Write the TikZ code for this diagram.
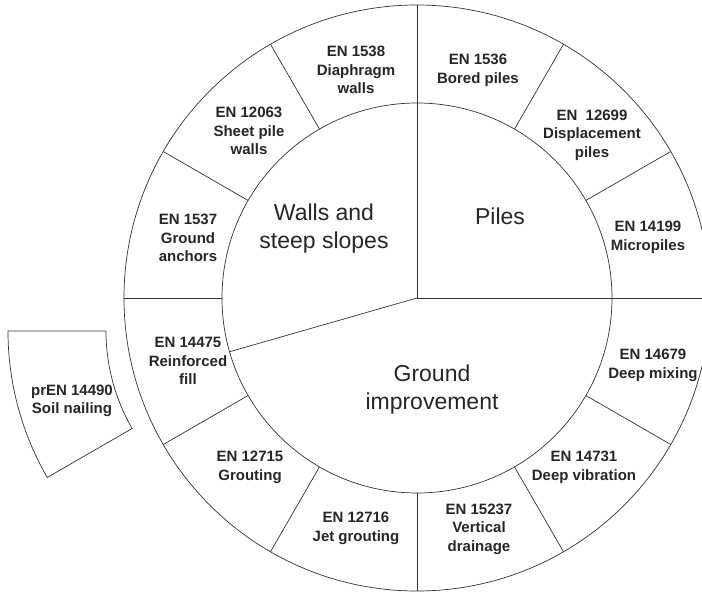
\documentclass[tikz,border=0pt]{standalone}
\usepackage{fontspec}
\setmainfont{Liberation Sans}

\begin{document}
\begin{tikzpicture}[x=1pt,y=1pt,line width=0.7pt,draw=black!80,
	norm/.style={text=black!85,font=\fontsize{15}{18.5}\selectfont\bfseries,align=center},
	group/.style={text=black!85,font=\fontsize{23}{28}\selectfont,align=center}]
	\useasboundingbox (-417,-294) rectangle (285,298);
	\clip (-417,-294) rectangle (285,298);
	% rings and dividers
	\draw (0,0) circle (293);
	\draw (0,0) circle (195);
	\foreach \a in {0,30,...,330}
		\draw (\a:195)--(\a:293);
	\draw (0,195)--(0,0)--(195,0);
	\draw (0,0)--(196:195);
	% loose piece
	\draw[shift={(-116,-33)}] (180:195)--(180:293) arc (180:210:293)--(210:195) arc (210:180:195)--cycle;
	% groups
	\node[group](walls) at (-93,69) {Walls and\\steep slopes};
	\node[group](piles) at (83,82) {Piles};
	\node[group](ground) at (15,-92) {Ground\\improvement};
	% standards
	\node[norm](en1538) at (-61,228) {EN 1538\\Diaphragm\\walls};
	\node[norm](en1536) at (61,227.5) {EN 1536\\Bored piles};
	\node[norm](en12063) at (-168,167) {EN 12063\\Sheet pile\\walls};
	\node[norm](en12699) at (175,163) {EN~~12699\\Displacement\\piles};
	\node[norm](en1537) at (-229,60) {EN 1537\\Ground\\anchors};
	\node[norm](en14199) at (231,60.5) {EN 14199\\Micropiles};
	\node[norm](en14475) at (-229,-63) {EN 14475\\Reinforced\\fill};
	\node[norm](en14679) at (236,-67.5) {EN 14679\\Deep mixing};
	\node[norm](en12715) at (-167,-169.5) {EN 12715\\Grouting};
	\node[norm](en12716) at (-61,-230.5) {EN 12716\\Jet grouting};
	\node[norm](en15237) at (62,-231) {EN 15237\\Vertical\\drainage};
	\node[norm](en14731) at (167,-169.5) {EN 14731\\Deep vibration};
	\node[norm](pren14490) at (-345,-103) {prEN 14490\\Soil nailing};
\end{tikzpicture}
\end{document}
